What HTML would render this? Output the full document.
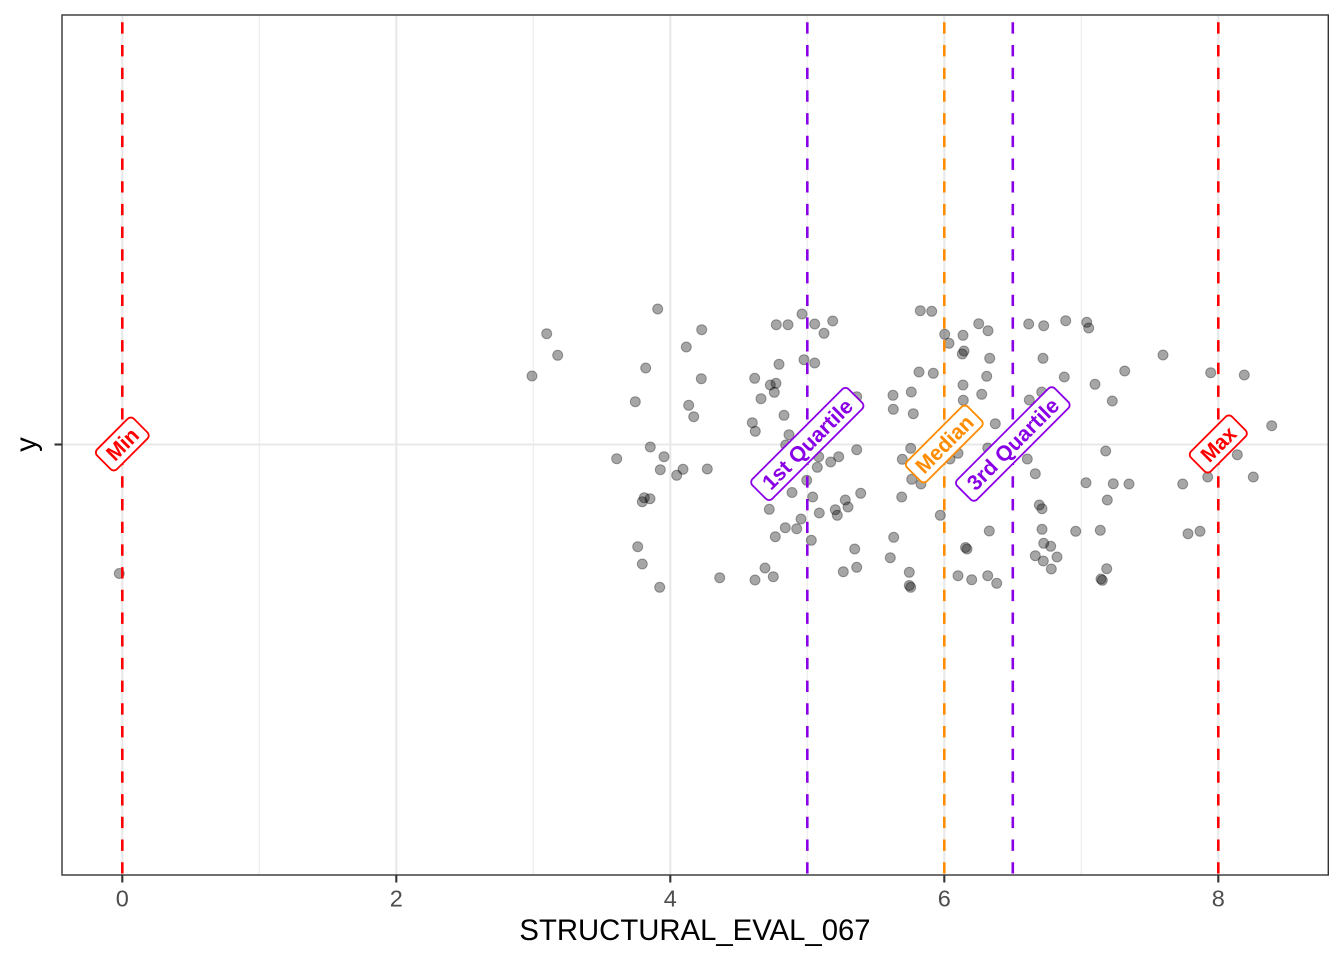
<!DOCTYPE html>
<html><head><meta charset="utf-8"><style>
html,body{margin:0;padding:0;background:#fff;}
svg{display:block;}
text{font-family:"Liberation Sans",Arial,sans-serif;}
</style></head><body>
<svg width="1344" height="960" viewBox="0 0 1344 960" xmlns="http://www.w3.org/2000/svg">
<rect x="0" y="0" width="1344" height="960" fill="#fff"/>
<g stroke="#ebebeb" stroke-width="1.1">
<line x1="259.3" y1="15" x2="259.3" y2="875"/>
<line x1="533.3" y1="15" x2="533.3" y2="875"/>
<line x1="807.3" y1="15" x2="807.3" y2="875"/>
<line x1="1081.3" y1="15" x2="1081.3" y2="875"/>
</g>
<g stroke="#e8e8e8" stroke-width="2.1">
<line x1="122.3" y1="15" x2="122.3" y2="875"/>
<line x1="396.3" y1="15" x2="396.3" y2="875"/>
<line x1="670.3" y1="15" x2="670.3" y2="875"/>
<line x1="944.3" y1="15" x2="944.3" y2="875"/>
<line x1="1218.3" y1="15" x2="1218.3" y2="875"/>
<line x1="62" y1="444.5" x2="1328" y2="444.5"/>
</g>
<g fill="#000" fill-opacity="0.35" stroke="#000" stroke-opacity="0.35" stroke-width="1">
<circle cx="119.3" cy="573.5" r="5"/>
<circle cx="532" cy="376" r="5"/>
<circle cx="546.7" cy="333.7" r="5"/>
<circle cx="557.7" cy="355.3" r="5"/>
<circle cx="657.7" cy="309" r="5"/>
<circle cx="645.7" cy="368" r="5"/>
<circle cx="635.3" cy="401.7" r="5"/>
<circle cx="701.7" cy="329.7" r="5"/>
<circle cx="686.3" cy="347" r="5"/>
<circle cx="701.3" cy="378.7" r="5"/>
<circle cx="688.7" cy="405.3" r="5"/>
<circle cx="693.7" cy="416.7" r="5"/>
<circle cx="650.3" cy="447" r="5"/>
<circle cx="664" cy="456.7" r="5"/>
<circle cx="616.7" cy="458.7" r="5"/>
<circle cx="660.3" cy="469.7" r="5"/>
<circle cx="683" cy="469.3" r="5"/>
<circle cx="676.7" cy="475.3" r="5"/>
<circle cx="707.3" cy="469" r="5"/>
<circle cx="644.3" cy="497.7" r="5"/>
<circle cx="650" cy="498.7" r="5"/>
<circle cx="642.3" cy="501.7" r="5"/>
<circle cx="637.7" cy="546.7" r="5"/>
<circle cx="642.3" cy="564" r="5"/>
<circle cx="659.7" cy="587.3" r="5"/>
<circle cx="719.7" cy="577.7" r="5"/>
<circle cx="755" cy="580" r="5"/>
<circle cx="765" cy="568" r="5"/>
<circle cx="773.3" cy="576.7" r="5"/>
<circle cx="776.3" cy="324.7" r="5"/>
<circle cx="788" cy="324.7" r="5"/>
<circle cx="802" cy="314" r="5"/>
<circle cx="779" cy="364.3" r="5"/>
<circle cx="754.7" cy="378.3" r="5"/>
<circle cx="770.3" cy="385" r="5"/>
<circle cx="776" cy="383.3" r="5"/>
<circle cx="774.3" cy="392.3" r="5"/>
<circle cx="761" cy="398.7" r="5"/>
<circle cx="784" cy="415.3" r="5"/>
<circle cx="752.3" cy="422.7" r="5"/>
<circle cx="755.3" cy="431.3" r="5"/>
<circle cx="789" cy="434.7" r="5"/>
<circle cx="785.7" cy="445" r="5"/>
<circle cx="792" cy="492.5" r="5"/>
<circle cx="769.3" cy="509.3" r="5"/>
<circle cx="785.3" cy="527.7" r="5"/>
<circle cx="796.7" cy="528.7" r="5"/>
<circle cx="775.3" cy="536.7" r="5"/>
<circle cx="801" cy="519" r="5"/>
<circle cx="814.7" cy="324" r="5"/>
<circle cx="832.7" cy="321" r="5"/>
<circle cx="824" cy="333.3" r="5"/>
<circle cx="804" cy="359.7" r="5"/>
<circle cx="814.7" cy="363" r="5"/>
<circle cx="856.7" cy="396.7" r="5"/>
<circle cx="856.7" cy="449.7" r="5"/>
<circle cx="818.7" cy="456.7" r="5"/>
<circle cx="838.7" cy="456.7" r="5"/>
<circle cx="830.7" cy="462" r="5"/>
<circle cx="817.3" cy="467.3" r="5"/>
<circle cx="806.7" cy="480.3" r="5"/>
<circle cx="860.7" cy="493.3" r="5"/>
<circle cx="812.7" cy="497" r="5"/>
<circle cx="845.3" cy="500" r="5"/>
<circle cx="848" cy="507" r="5"/>
<circle cx="819.3" cy="513" r="5"/>
<circle cx="835.3" cy="509.7" r="5"/>
<circle cx="837.3" cy="515.3" r="5"/>
<circle cx="811.3" cy="540.3" r="5"/>
<circle cx="854.7" cy="549" r="5"/>
<circle cx="856.7" cy="567.3" r="5"/>
<circle cx="843.3" cy="571.7" r="5"/>
<circle cx="920.3" cy="310.7" r="5"/>
<circle cx="931.7" cy="311.3" r="5"/>
<circle cx="944.7" cy="334.3" r="5"/>
<circle cx="949" cy="343.3" r="5"/>
<circle cx="963" cy="335.3" r="5"/>
<circle cx="978.7" cy="323.7" r="5"/>
<circle cx="988" cy="330.7" r="5"/>
<circle cx="962.3" cy="354" r="5"/>
<circle cx="964" cy="351" r="5"/>
<circle cx="989.7" cy="358.3" r="5"/>
<circle cx="919" cy="372" r="5"/>
<circle cx="933.3" cy="373.3" r="5"/>
<circle cx="986.7" cy="376.3" r="5"/>
<circle cx="963" cy="385" r="5"/>
<circle cx="893" cy="395.3" r="5"/>
<circle cx="911.3" cy="392" r="5"/>
<circle cx="981.7" cy="394.3" r="5"/>
<circle cx="963.3" cy="400.3" r="5"/>
<circle cx="893.3" cy="409.3" r="5"/>
<circle cx="913.3" cy="413.7" r="5"/>
<circle cx="995.3" cy="423.7" r="5"/>
<circle cx="910.7" cy="448.3" r="5"/>
<circle cx="902.3" cy="459.3" r="5"/>
<circle cx="911.7" cy="479.3" r="5"/>
<circle cx="921" cy="484" r="5"/>
<circle cx="950" cy="459" r="5"/>
<circle cx="958" cy="453.3" r="5"/>
<circle cx="987.7" cy="448" r="5"/>
<circle cx="901.7" cy="497" r="5"/>
<circle cx="940.3" cy="515.3" r="5"/>
<circle cx="989.3" cy="531" r="5"/>
<circle cx="893.7" cy="537.3" r="5"/>
<circle cx="890.3" cy="557.7" r="5"/>
<circle cx="965.5" cy="547.5" r="5"/>
<circle cx="967" cy="549" r="5"/>
<circle cx="909.3" cy="572.3" r="5"/>
<circle cx="909.3" cy="585.5" r="5"/>
<circle cx="910.7" cy="587.3" r="5"/>
<circle cx="958" cy="575.7" r="5"/>
<circle cx="971.7" cy="579.7" r="5"/>
<circle cx="987.7" cy="575.7" r="5"/>
<circle cx="996.7" cy="583.3" r="5"/>
<circle cx="1028.7" cy="324" r="5"/>
<circle cx="1043.7" cy="325.7" r="5"/>
<circle cx="1065.7" cy="320.7" r="5"/>
<circle cx="1086.7" cy="322.3" r="5"/>
<circle cx="1088.7" cy="328" r="5"/>
<circle cx="1043" cy="358.3" r="5"/>
<circle cx="1163" cy="355" r="5"/>
<circle cx="1124.7" cy="371" r="5"/>
<circle cx="1210.7" cy="372.7" r="5"/>
<circle cx="1244.3" cy="375" r="5"/>
<circle cx="1064.3" cy="377" r="5"/>
<circle cx="1095" cy="384.3" r="5"/>
<circle cx="1041.7" cy="392" r="5"/>
<circle cx="1029.3" cy="400" r="5"/>
<circle cx="1112.3" cy="401" r="5"/>
<circle cx="1271.7" cy="425.7" r="5"/>
<circle cx="1105.7" cy="451" r="5"/>
<circle cx="1237.3" cy="454.7" r="5"/>
<circle cx="1027.3" cy="459" r="5"/>
<circle cx="1035.3" cy="473.7" r="5"/>
<circle cx="1253.3" cy="477" r="5"/>
<circle cx="1207.7" cy="477" r="5"/>
<circle cx="1086" cy="482.7" r="5"/>
<circle cx="1113.3" cy="483.7" r="5"/>
<circle cx="1129" cy="484" r="5"/>
<circle cx="1182.7" cy="484" r="5"/>
<circle cx="1107.3" cy="500" r="5"/>
<circle cx="1039.3" cy="505" r="5"/>
<circle cx="1042" cy="508.7" r="5"/>
<circle cx="1042" cy="529.3" r="5"/>
<circle cx="1075.7" cy="531.3" r="5"/>
<circle cx="1100.3" cy="530.3" r="5"/>
<circle cx="1188" cy="533.7" r="5"/>
<circle cx="1200" cy="531.3" r="5"/>
<circle cx="1043.7" cy="543.3" r="5"/>
<circle cx="1050.7" cy="546.3" r="5"/>
<circle cx="1035.3" cy="555.7" r="5"/>
<circle cx="1057" cy="557" r="5"/>
<circle cx="1043.3" cy="561" r="5"/>
<circle cx="1051.3" cy="569" r="5"/>
<circle cx="1106.7" cy="568.7" r="5"/>
<circle cx="1101" cy="579" r="5"/>
<circle cx="1102.3" cy="580.3" r="5"/>
</g>
<g stroke-width="2.6" stroke-dasharray="11.35 11.35" stroke-dashoffset="15.4" fill="none">
<line x1="122.3" y1="15" x2="122.3" y2="875" stroke="#ff0000"/>
<line x1="807.3" y1="15" x2="807.3" y2="875" stroke="#8a00e6"/>
<line x1="944.3" y1="15" x2="944.3" y2="875" stroke="#ff8c00"/>
<line x1="1012.8" y1="15" x2="1012.8" y2="875" stroke="#8a00e6"/>
<line x1="1218.3" y1="15" x2="1218.3" y2="875" stroke="#ff0000"/>
</g>
<g font-family="'Liberation Sans', Arial, sans-serif" font-weight="700" font-size="21.5" text-anchor="middle">
<g transform="translate(122.3,444) rotate(-45)">
<rect x="-26" y="-14" width="52" height="28" rx="4.5" fill="#fff" stroke="#ff0000" stroke-width="1.8"/>
<text x="0" y="7.6" fill="#ff0000" textLength="36" lengthAdjust="spacingAndGlyphs">Min</text>
</g>
<g transform="translate(807.3,444) rotate(-45)">
<rect x="-68" y="-14" width="136" height="28" rx="4.5" fill="#fff" stroke="#8a00e6" stroke-width="1.8"/>
<text x="0" y="7.6" fill="#8a00e6" textLength="118" lengthAdjust="spacingAndGlyphs">1st Quartile</text>
</g>
<g transform="translate(944.3,444) rotate(-45)">
<rect x="-43" y="-14" width="86" height="28" rx="4.5" fill="#fff" stroke="#ff8c00" stroke-width="1.8"/>
<text x="0" y="7.6" fill="#ff8c00" textLength="72" lengthAdjust="spacingAndGlyphs">Median</text>
</g>
<g transform="translate(1012.8,444) rotate(-45)">
<rect x="-69" y="-14" width="138" height="28" rx="4.5" fill="#fff" stroke="#8a00e6" stroke-width="1.8"/>
<text x="0" y="7.6" fill="#8a00e6" textLength="120" lengthAdjust="spacingAndGlyphs">3rd Quartile</text>
</g>
<g transform="translate(1218.3,444) rotate(-45)">
<rect x="-29" y="-14" width="58" height="28" rx="4.5" fill="#fff" stroke="#ff0000" stroke-width="1.8"/>
<text x="0" y="7.6" fill="#ff0000" textLength="40" lengthAdjust="spacingAndGlyphs">Max</text>
</g>
</g>
<rect x="62" y="15" width="1266.3" height="860" fill="none" stroke="#333333" stroke-width="1.4"/>
<g stroke="#333333" stroke-width="2.1">
<line x1="122.3" y1="875" x2="122.3" y2="882.5"/>
<line x1="396.3" y1="875" x2="396.3" y2="882.5"/>
<line x1="670.3" y1="875" x2="670.3" y2="882.5"/>
<line x1="944.3" y1="875" x2="944.3" y2="882.5"/>
<line x1="1218.3" y1="875" x2="1218.3" y2="882.5"/>
<line x1="54.5" y1="444.5" x2="62" y2="444.5"/>
</g>
<g font-size="23.5" fill="#4d4d4d" text-anchor="middle">
<text x="122.3" y="906.5">0</text>
<text x="396.3" y="906.5">2</text>
<text x="670.3" y="906.5">4</text>
<text x="944.3" y="906.5">6</text>
<text x="1218.3" y="906.5">8</text>
</g>
<text x="695" y="940" font-size="29.3" fill="#000" text-anchor="middle">STRUCTURAL_EVAL_067</text>
<text transform="translate(36,444.5) rotate(-90)" x="0" y="0" font-size="29.3" fill="#000" text-anchor="middle">y</text>
</svg>
</body></html>
